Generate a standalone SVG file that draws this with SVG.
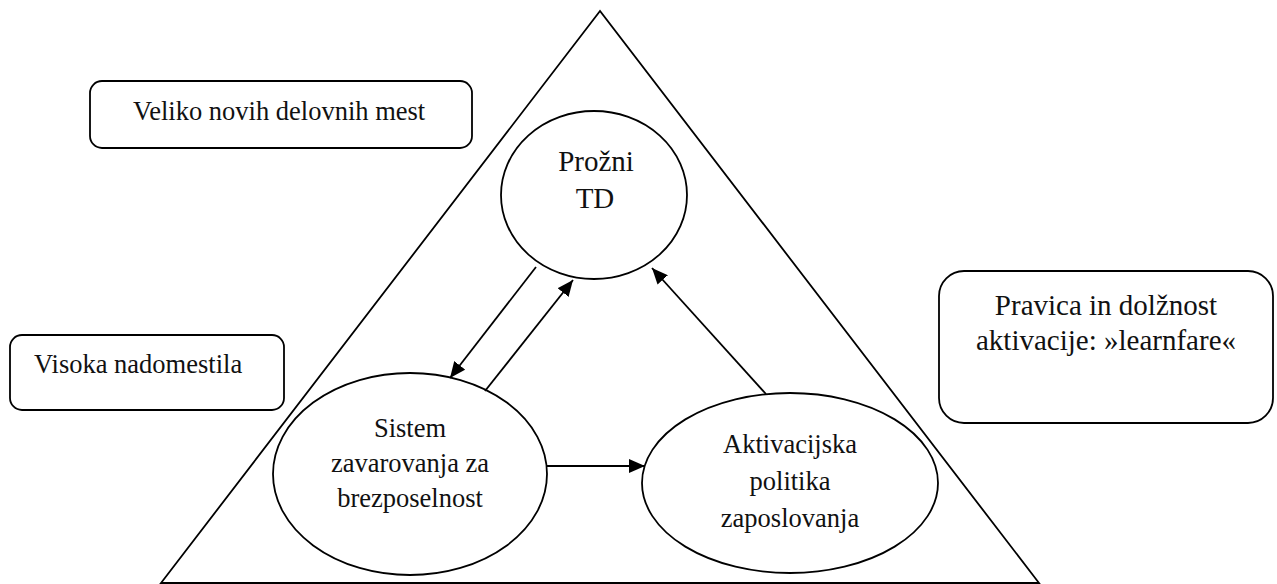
<svg xmlns="http://www.w3.org/2000/svg" width="1277" height="584" viewBox="0 0 1277 584">
<style>
.s{fill:none;stroke:#000;stroke-width:1.8}
.b{fill:#fff;stroke:#000;stroke-width:1.8}
.t{font-family:"Liberation Serif","Times New Roman",serif;font-size:26.5px;fill:#111}
.L{font-size:29px}
.m{text-anchor:middle}
.c{fill:none;stroke:#000;stroke-width:1.8;marker-end:url(#ah)}
</style>
<defs>
<marker id="ah" markerUnits="userSpaceOnUse" markerWidth="16" markerHeight="14" refX="16" refY="7" orient="auto">
<path d="M0,0 L16,7 L0,14 z" fill="#000"/>
</marker>
</defs>
<rect width="1277" height="584" fill="#fff"/>
<g id="triangle"><polygon class="s" points="600,11 161,583 1039,583"/></g>
<g id="veliko"><rect class="b" x="90" y="81" width="382" height="67" rx="12"/><text class="t" x="133" y="120">Veliko novih delovnih mest</text></g>
<g id="visoka"><rect class="b" x="10" y="335" width="274" height="75" rx="12"/><text class="t" x="34" y="373">Visoka nadomestila</text></g>
<g id="pravica"><rect class="b" x="939" y="271" width="334" height="152" rx="25"/><text class="t L m" x="1106" y="315">Pravica in dolžnost</text><text class="t L m" x="1106" y="350">aktivacije: »learnfare«</text></g>
<g id="prozni"><ellipse class="b" cx="594" cy="195" rx="93" ry="84"/><text class="t L m" x="596" y="171">Prožni</text><text class="t L m" x="595" y="208">TD</text></g>
<g id="sistem"><ellipse class="b" cx="410" cy="474" rx="137" ry="101"/><text class="t m" x="410" y="437">Sistem</text><text class="t m" x="410" y="472">zavarovanja za</text><text class="t m" x="410" y="507">brezposelnost</text></g>
<g id="aktivacijska"><ellipse class="b" cx="790" cy="483" rx="148" ry="90"/><text class="t m" x="790" y="453">Aktivacijska</text><text class="t m" x="790" y="490">politika</text><text class="t m" x="790" y="527">zaposlovanja</text></g>
<g id="connectors">
<line class="c" x1="536" y1="267" x2="450" y2="378"/>
<line class="c" x1="485" y1="391" x2="573" y2="280"/>
<line class="c" x1="766" y1="394" x2="652" y2="268"/>
<line class="c" x1="547" y1="466" x2="645" y2="466"/>
</g>
</svg>
